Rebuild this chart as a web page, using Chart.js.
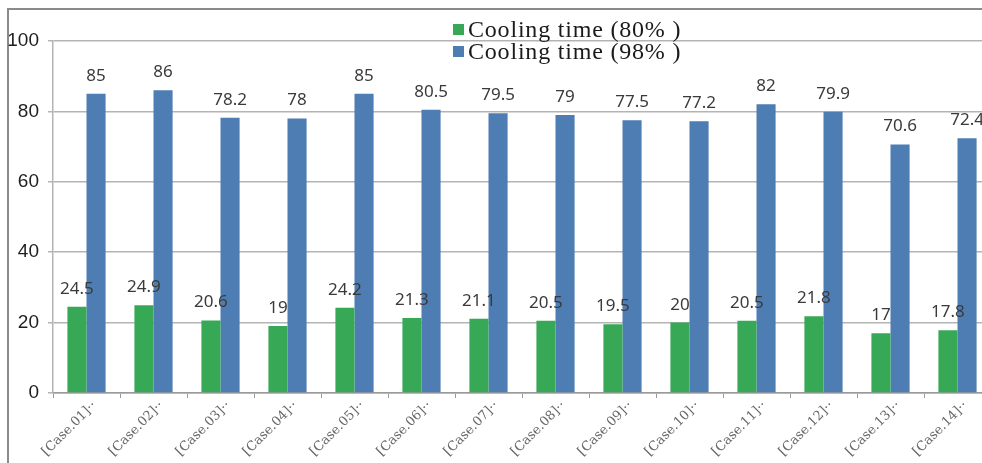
<!DOCTYPE html>
<html>
<head>
<meta charset="utf-8">
<script src="https://cdn.jsdelivr.net/npm/chart.js@4.4.1/dist/chart.umd.min.js"></script>
<style>
  html, body { margin: 0; padding: 0; background: #fff; overflow: hidden; }
  #wrap { position: relative; width: 1000px; height: 463px; }
</style>
</head>
<body>
<div id="wrap"><canvas id="c" width="1000" height="463"></canvas></div>
<script>
// Cooling time per case
const categories = ['[Case.01]··', '[Case.02]··', '[Case.03]··', '[Case.04]··', '[Case.05]··', '[Case.06]··', '[Case.07]··',
                    '[Case.08]··', '[Case.09]··', '[Case.10]··', '[Case.11]··', '[Case.12]··', '[Case.13]··', '[Case.14]··'];
const cooling80 = [24.5, 24.9, 20.6, 19, 24.2, 21.3, 21.1, 20.5, 19.5, 20, 20.5, 21.8, 17, 17.8];
const cooling98 = [85, 86, 78.2, 78, 85, 80.5, 79.5, 79, 77.5, 77.2, 82, 79.9, 70.6, 72.4];
const seriesNames = ['Cooling time (80% )', 'Cooling time (98% )'];
const yTicks = [0, 20, 40, 60, 80, 100];

const GREEN = '#37a956';
const BLUE = '#4d7db3';

// Frame around the figure (top and left edges)
const framePlugin = {
  id: 'frame',
  beforeDraw(chart) {
    const ctx = chart.ctx;
    ctx.save();
    ctx.fillStyle = '#fff';
    ctx.fillRect(0, 0, chart.width, chart.height);
    ctx.strokeStyle = '#8a8a8a';
    ctx.lineWidth = 2;
    ctx.beginPath();
    ctx.moveTo(8, chart.height);
    ctx.lineTo(8, 9);
    ctx.lineTo(chart.width, 9);
    ctx.stroke();
    ctx.restore();
  }
};

// Value labels above each bar
const valueLabels = {
  id: 'valueLabels',
  afterDatasetsDraw(chart) {
    const ctx = chart.ctx;
    ctx.save();
    ctx.font = '17px "Noto Sans", "Open Sans", sans-serif';
    ctx.fillStyle = '#3a3a3a';
    ctx.textAlign = 'center';
    ctx.textBaseline = 'alphabetic';
    chart.data.datasets.forEach((ds, i) => {
      const meta = chart.getDatasetMeta(i);
      meta.data.forEach((bar, j) => {
        ctx.fillText(String(ds.data[j]), bar.x, bar.y - 13);
      });
    });
    ctx.restore();
  }
};

// Legend drawn over the top of the plot
const overlayLegend = {
  id: 'overlayLegend',
  afterDraw(chart) {
    const ctx = chart.ctx;
    ctx.save();
    ctx.font = '24px "Liberation Serif", "DejaVu Serif", serif';
    ctx.letterSpacing = '0.8px';
    ctx.textBaseline = 'alphabetic';
    ctx.textAlign = 'left';
    chart.data.datasets.forEach((ds, i) => {
      const y = 37 + i * 22;
      ctx.fillStyle = ds.backgroundColor;
      ctx.fillRect(453, y - 13, 11, 11);
      ctx.fillStyle = '#1a1a1a';
      ctx.fillText(ds.label, 468, y);
    });
    ctx.restore();
  }
};

new Chart(document.getElementById('c'), {
  type: 'bar',
  data: {
    labels: categories,
    datasets: [
      { label: seriesNames[0], data: cooling80, backgroundColor: GREEN },
      { label: seriesNames[1], data: cooling98, backgroundColor: BLUE }
    ]
  },
  options: {
    responsive: false,
    animation: false,
    events: [],
    layout: { padding: { left: 0, right: 9, top: 41, bottom: 0 } },
    datasets: { bar: { categoryPercentage: 0.57, barPercentage: 1.0 } },
    plugins: { legend: { display: false }, tooltip: { enabled: false } },
    scales: {
      x: {
        grid: { drawOnChartArea: false, drawTicks: true, tickLength: 5, color: '#9a9a9a', offset: true },
        border: { display: true, color: '#9a9a9a', width: 1.5 },
        ticks: {
          autoSkip: false, maxRotation: 45, minRotation: 45, padding: 0, labelOffset: 8,
          color: '#666666',
          font: { family: '"DejaVu Serif", "Liberation Serif", serif', size: 13 }
        },
        afterFit(scale) { scale.height = 70; }
      },
      y: {
        min: 0, max: 100,
        afterBuildTicks(scale) { scale.ticks = yTicks.map(v => ({ value: v })); },
        grid: { color: '#b4b4b4', lineWidth: 1.5, tickLength: 5 },
        border: { display: true, color: '#b4b4b4', width: 1.5 },
        ticks: {
          padding: 9, color: '#1e1e1e',
          font: { family: '"Liberation Sans", Arial, sans-serif', size: 19 }
        },
        afterFit(scale) { scale.width = 53; }
      }
    }
  },
  plugins: [framePlugin, valueLabels, overlayLegend]
});
</script>
</body>
</html>
